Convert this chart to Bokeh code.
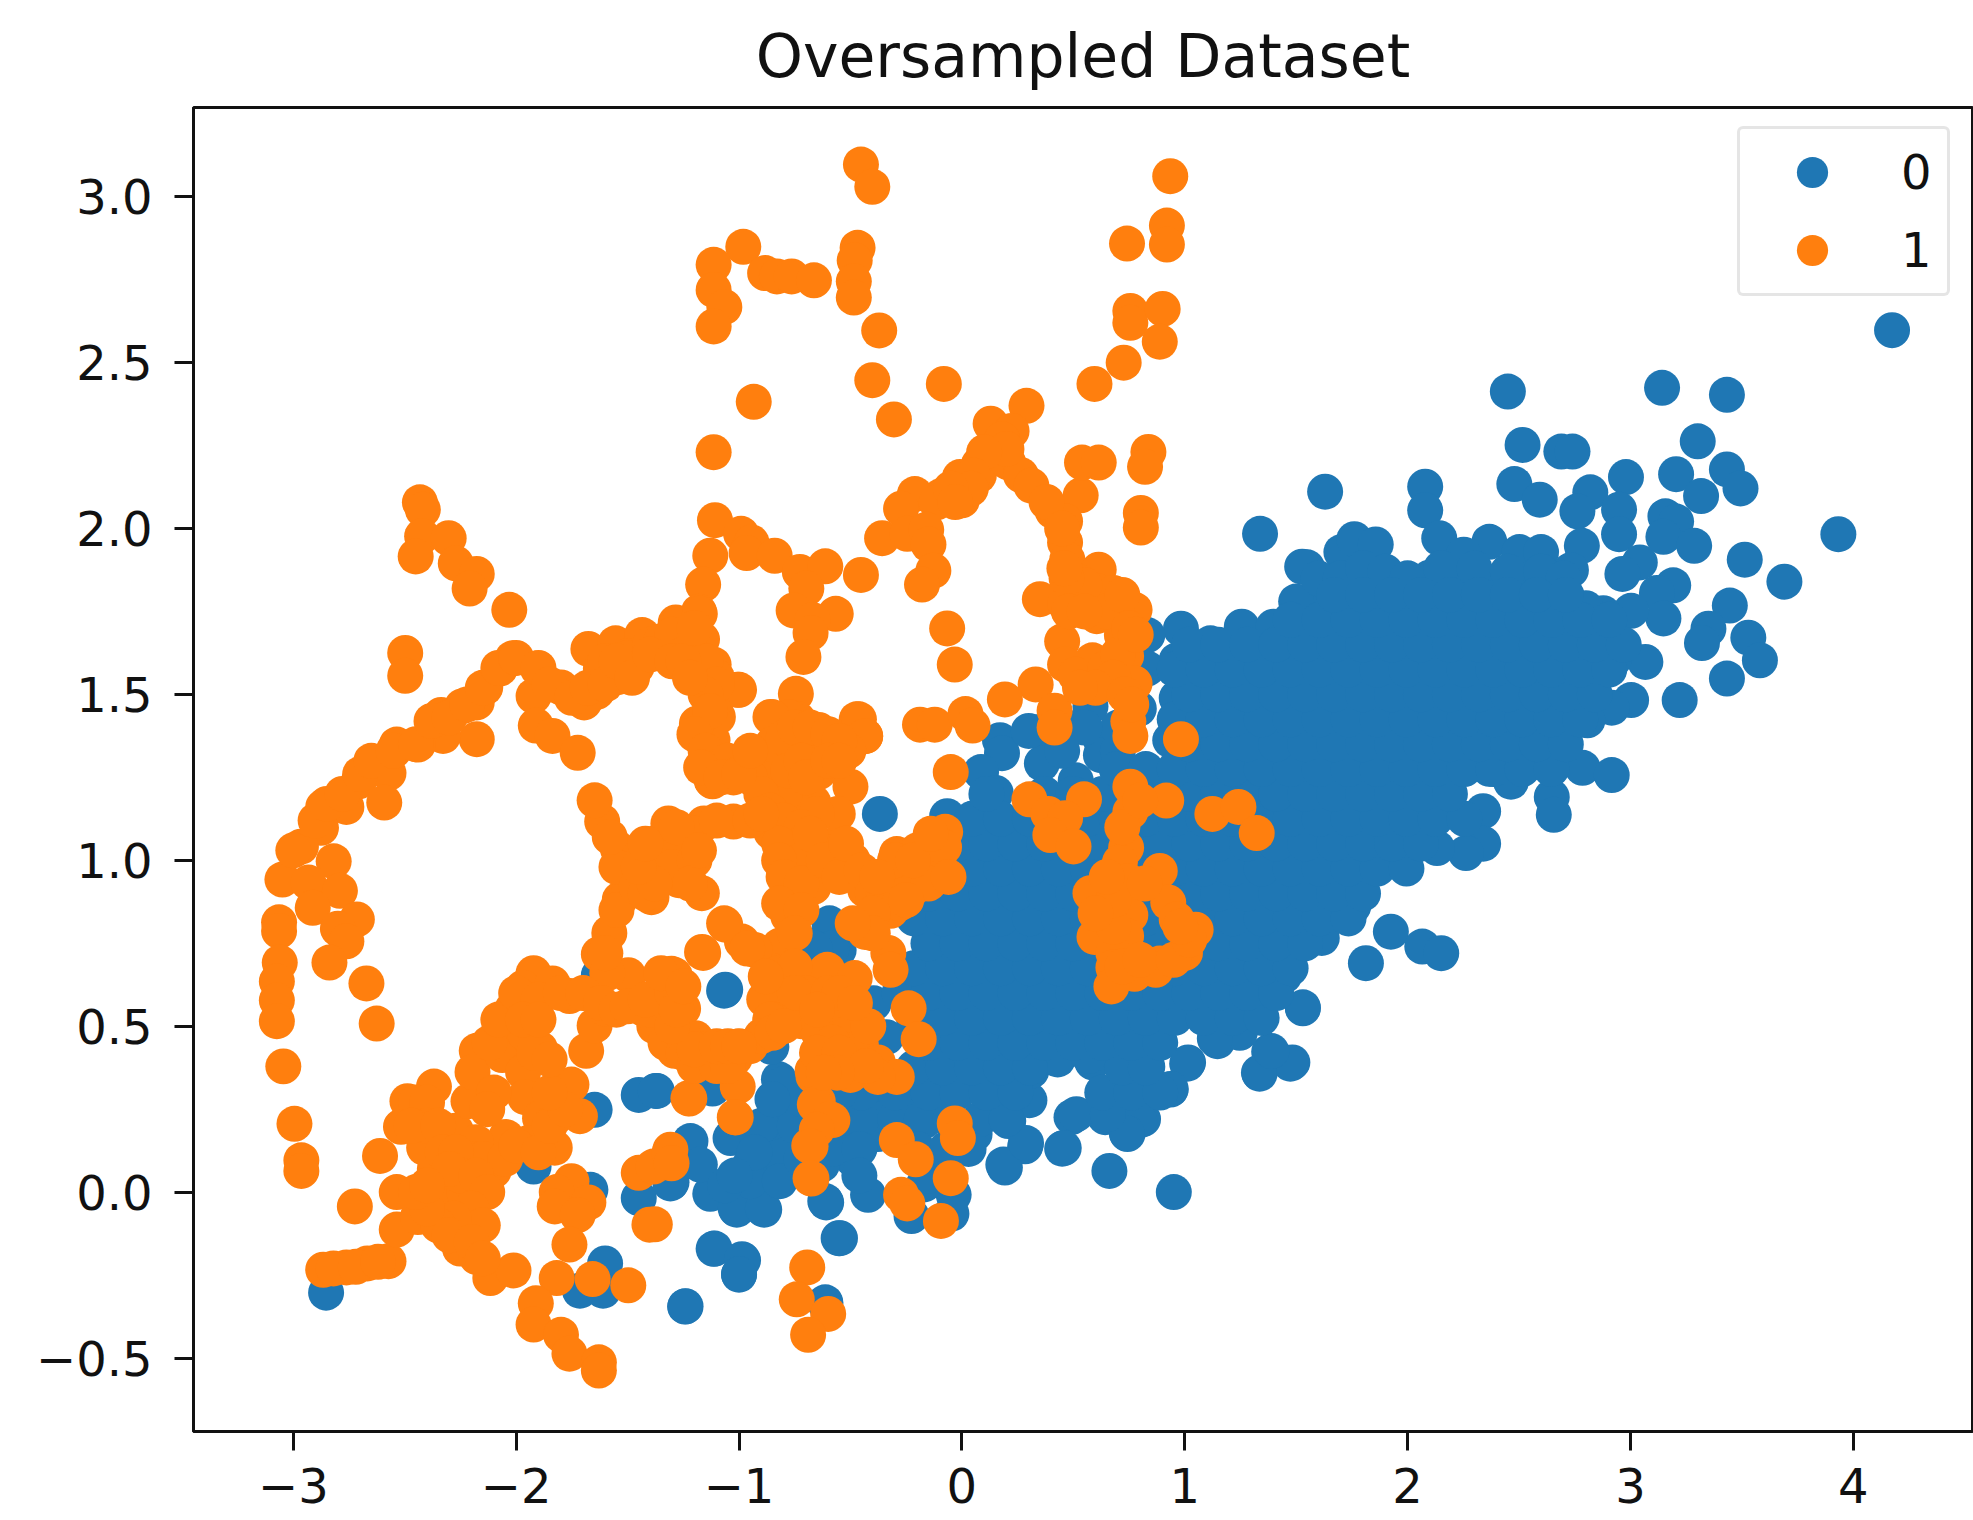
from bokeh.plotting import figure
from bokeh.embed import file_html
from bokeh.resources import INLINE
from bokeh.models import Legend, LegendItem, FixedTicker, Range1d

TITLE = "Oversampled Dataset"
X_TICKS = [-3, -2, -1, 0, 1, 2, 3, 4]
X_TICK_LABELS = ["\u22123", "\u22122", "\u22121", "0", "1", "2", "3", "4"]
Y_TICKS = [-0.5, 0, 0.5, 1, 1.5, 2, 2.5, 3]
Y_TICK_LABELS = ["\u22120.5", "0.0", "0.5", "1.0", "1.5", "2.0", "2.5", "3.0"]
CLASSES = ["0", "1"]

# class 0: separately visible points
blue_points = [
 (-0.368,1.14),(-1.067,0.607),(-1.369,0.305),(-0.821,0.34),(-0.811,0.277),(-0.853,0.207),(-1.218,0.154),(-1.038,0.163),
 (-0.821,0.118),(-0.953,0.08),(-0.811,0.042),(-1.123,-0.002),(-1.303,0.03),(-1.01,-0.053),(-0.887,-0.053),(-0.613,-0.027),
 (-0.421,-0.008),(-0.547,-0.139),(-1.114,-0.171),(-0.982,-0.205),(-1.0,-0.249),(-1.24,-0.344),(-0.613,-0.332),(-0.226,-0.072),
 (-0.037,-0.008),(-0.047,-0.065),(-0.17,0.023),(0.193,0.074),(0.284,0.138),(0.45,0.131),(0.662,0.064),(0.951,0.0),
 (0.743,0.175),(0.813,0.22),(0.643,0.226),(0.492,0.226),(0.936,0.309),(1.015,0.391),(1.147,0.455),(1.379,0.423),
 (1.336,0.357),(1.483,0.391),(1.53,0.554),(1.247,0.48),(-0.49,0.1),(-0.509,0.15),(-0.377,0.175),(-0.396,0.252),
 (-0.226,0.264),(-0.075,0.226),(0.057,0.175),(0.208,0.214),(0.303,0.277),(0.312,0.366),(0.416,0.404),(0.586,0.391),
 (0.737,0.34),(0.832,0.378),(0.68,0.264),(0.43,0.40),(0.57,0.41),
 (2.45,2.413),(3.142,2.424),(3.433,2.403),(4.174,2.598),(2.516,2.252),(2.69,2.232),(2.74,2.232),(3.302,2.263),
 (2.479,2.134),(2.593,2.087),(2.98,2.155),(3.205,2.164),(3.433,2.178),(3.494,2.121),(3.317,2.098),(2.82,2.109),
 (2.762,2.052),(2.949,2.057),(2.079,2.126),(2.079,2.055),(1.63,2.111),(3.933,1.983),(3.157,2.037),(3.205,2.021),
 (2.949,1.983),(3.148,1.975),(3.286,1.948),(2.782,1.948),(3.513,1.906),(3.691,1.84),(3.042,1.898),(2.964,1.863),
 (3.192,1.829),(3.119,1.806),(3.446,1.768),(3.35,1.698),(3.321,1.655),(3.529,1.671),(3.581,1.603),(3.433,1.548),
 (3.221,1.483),(3.148,1.729),(3.003,1.752),(2.878,1.745),(3.067,1.598),(2.926,1.606),(3.003,1.483),(2.916,1.46),
 (2.807,1.422),(2.785,1.279),(2.916,1.257),(2.647,1.191),(2.656,1.137),(2.464,1.237),(2.339,1.148),(2.339,1.05),
 (2.262,1.022),(2.132,1.037),(1.963,0.999),(1.549,1.883),(1.703,1.929),(1.761,1.968),(1.857,1.952),(1.626,1.791),
 (2.142,1.971),(2.367,1.96),(2.252,1.921),(2.502,1.929),(2.599,1.929),(2.098,1.852),(2.733,1.875),(1.944,1.768),
 (2.194,1.829),(2.367,1.837),(2.56,1.814),(2.714,1.798),(2.54,1.291),(2.618,1.291),(2.367,1.276),(2.676,1.383),
 (1.338,1.984),(1.527,1.885),(0.983,1.698),(1.256,1.704),(1.398,1.704),(0.964,1.603),(0.964,1.489),(1.115,1.654),
 (0.832,1.679),(0.832,1.578),(0.794,1.457),(0.577,1.464),(0.171,1.362),(0.35,1.387),(0.473,1.40),(0.624,1.362),
 (0.935,1.362),(0.18,1.323),(0.086,1.266),(0.152,1.203),(-0.066,1.133),(0.057,1.127),(0.359,1.292),(0.511,1.241),(0.624,1.317),
 (-1.062,0.61),(-1.648,0.248),(-1.45,0.293),(-1.374,0.305),(-1.922,0.077),(-1.667,0.007),(-1.45,-0.018),(-1.308,0.026),
 (-1.223,0.147),(-1.129,-0.005),(-1.025,0.172),(-0.949,0.071),(-0.826,0.115),(-0.855,0.21),(-0.808,0.324),(-0.609,-0.031),
 (-0.553,-0.139),(-1.015,-0.05),(-0.893,-0.05),(-1.11,-0.17),(-0.987,-0.202),(-1.0,-0.247),(-1.242,-0.345),(-2.853,-0.303),
 (-1.714,-0.297),(-1.601,-0.215),(-1.61,-0.297),(-0.613,-0.335),(-1.629,0.654),(-1.119,0.312),(-0.855,0.438),(-0.581,0.794),
 (-0.666,0.743),(-0.553,0.73),(-1.176,0.083),(-0.949,0.033),(-0.817,0.033),(-1.063,0.02),(-0.628,0.083),(-0.496,0.159),
 (-0.604,0.138),(-0.339,0.226),(-0.169,0.214),(-0.594,0.81),(-0.585,0.734),(-0.66,0.734),(-0.396,0.569),(-0.339,0.467),
 (1.813,0.69),(1.925,0.785),(2.066,0.74),(2.151,0.72),(1.756,0.861),(1.615,0.766),(1.53,0.557),(1.474,0.387),(1.333,0.36),
 (1.389,0.425),(1.011,0.387),(0.937,0.311),(0.796,0.216),(0.74,0.178),(0.457,0.133),(0.186,0.083),(0.288,0.148),(0.514,0.235),
 (0.655,0.235),(1.135,0.463),(1.248,0.539),(1.446,0.652),
 # upper edge of the core
 (1.5,1.78),(1.6,1.85),(1.7,1.85),(1.8,1.88),(1.9,1.87),(2.0,1.85),(2.15,1.88),(2.3,1.88),(2.45,1.87),(2.6,1.87),(2.7,1.85),(2.8,1.76),
 # between the core and the orange knot
 (0.7,1.33),(0.7,1.4),(0.55,1.4),(0.45,1.33),(0.3,1.39),(0.42,1.43),(0.75,1.55),
 # lower-left shoulder
 (-0.55,0.22),(-0.45,0.22),(-0.3,0.22),(-0.18,0.22),(-0.05,0.22),(0.08,0.22),(0.2,0.22),
 (-0.58,0.13),(-0.46,0.13),(-0.2,0.13),(-0.07,0.13),(0.03,0.13),(-0.46,0.05),(-0.15,0.05),
 (-0.3,0.30),(-0.45,0.30),(-0.55,0.30),
 (-0.9,0.2),(-0.93,0.12),(-1.02,0.05),(-0.75,0.2),(-0.72,0.1),(-0.72,0.28),(-0.85,0.28),
]
blue_x = [pt[0] for pt in blue_points]
blue_y = [pt[1] for pt in blue_points]

# class 0: saturated core, read row by row (marks overlap too much to separate)
core_y = [0.30,0.375,0.45,0.525,0.60,0.675,0.75,0.825,0.90,0.975,1.05,1.125,1.20,1.275,1.35,1.425,1.50,1.575,1.65,1.725,1.80]
core_x = [
 [-0.15,-0.02,0.11,0.24,0.63,0.76,0.89],
 [-0.215,-0.085,0.045,0.175,0.305,0.72,0.825],
 [-0.15,-0.02,0.11,0.24,0.37,0.50,0.63,0.76,0.89],
 [-0.215,-0.085,0.045,0.175,0.305,0.435,0.565,0.695,0.825,0.955,1.085,1.215,1.345],
 [-0.28,-0.15,-0.02,0.11,0.24,0.37,0.50,0.63,0.76,0.89,1.02,1.15,1.28,1.41],
 [-0.215,-0.085,0.045,0.175,0.305,0.435,0.565,0.695,0.825,0.955,1.085,1.215,1.345,1.475],
 [-0.15,-0.02,0.11,0.24,0.37,0.50,0.63,0.76,0.89,1.02,1.15,1.28,1.41,1.54],
 [-0.215,-0.085,0.045,0.175,0.305,0.435,0.565,0.695,0.825,0.955,1.085,1.215,1.345,1.475,1.605,1.735],
 [-0.15,-0.02,0.11,0.24,0.37,0.50,0.63,0.76,0.89,1.02,1.15,1.28,1.41,1.54,1.67,1.80],
 [-0.085,0.045,0.175,0.305,0.435,0.565,0.695,0.825,0.955,1.085,1.215,1.345,1.475,1.605,1.735,1.865,1.995],
 [-0.02,0.11,0.24,0.37,0.50,0.63,0.76,0.89,1.02,1.15,1.28,1.41,1.54,1.67,1.80,1.93,2.06],
 [0.045,0.175,0.305,0.435,0.565,0.695,0.825,0.955,1.085,1.215,1.345,1.475,1.605,1.735,1.865,1.995,2.125,2.255],
 [0.11,0.37,0.50,0.63,0.76,0.89,1.02,1.15,1.28,1.41,1.54,1.67,1.80,1.93,2.06,2.19],
 [0.695,0.825,0.955,1.085,1.215,1.345,1.475,1.605,1.735,1.865,1.995,2.125,2.255,2.385,2.515,2.645],
 [1.02,1.15,1.28,1.41,1.54,1.67,1.80,1.93,2.06,2.19,2.32,2.45,2.58,2.71],
 [0.955,1.085,1.215,1.345,1.475,1.605,1.735,1.865,1.995,2.125,2.255,2.385,2.515,2.645,2.775],
 [1.02,1.15,1.28,1.41,1.54,1.67,1.80,1.93,2.06,2.19,2.32,2.45,2.58,2.71,2.84],
 [0.955,1.085,1.215,1.345,1.475,1.605,1.735,1.865,1.995,2.125,2.255,2.385,2.515,2.645,2.775,2.905],
 [1.02,1.15,1.28,1.41,1.54,1.67,1.80,1.93,2.06,2.19,2.32,2.45,2.58,2.71,2.84,2.97],
 [1.475,1.605,1.735,1.865,1.995,2.125,2.255,2.385,2.515,2.645,2.775,2.905],
 [1.67,1.80,1.93,2.06,2.19,2.32,2.45,2.58,2.71],
]
for row_y, row in zip(core_y, core_x):
    blue_x += row
    blue_y += [row_y] * len(row)

# class 1
orange_points = [
 (-0.453,3.097),(-0.402,3.03),(-0.981,2.849),(-1.114,2.795),(-1.114,2.719),(-1.066,2.668),(-1.114,2.609),(-0.883,2.77),
 (-0.83,2.76),(-0.764,2.76),(-0.664,2.748),(-0.468,2.846),(-0.481,2.808),(-0.485,2.745),(-0.485,2.696),(-0.371,2.597),
 (-0.402,2.447),(-0.305,2.329),(-0.081,2.436),(-0.934,2.382),(-1.114,2.23),(0.935,3.062),(0.92,2.913),(0.92,2.856),
 (0.741,2.859),(0.756,2.656),(0.756,2.62),(0.901,2.662),(0.888,2.563),(0.726,2.5),(0.595,2.436),(0.29,2.37),
 (0.129,2.316),(0.223,2.294),(0.18,2.269),(0.076,2.193),(0.076,2.16),(0.0,2.085),(-0.009,2.155),(-0.094,2.098),
 (-0.211,2.104),(-0.273,2.06),(-0.113,2.079),(0.208,2.199),(0.265,2.161),(0.312,2.129),(0.407,2.053),(0.533,2.1),
 (0.539,2.199),(0.614,2.199),(0.837,2.231),(0.822,2.186),(0.803,2.047),(0.803,2.003),(0.463,2.022),(0.463,1.958),
 (0.473,1.907),(0.614,1.876),(0.51,1.844),(0.35,1.787),(0.463,1.774),(0.605,1.812),(0.68,1.806),(0.775,1.755),
 (0.605,1.736),(0.699,1.743),(0.45,1.66),(0.718,1.679),(0.737,1.616),(0.586,1.603),(0.463,1.59),(0.331,1.53),
 (0.51,1.559),(0.643,1.578),(0.775,1.533),(0.193,1.485),(-0.066,1.699),(-0.032,1.59),(0.416,1.451),(0.416,1.40),
 (0.747,1.419),(0.756,1.375),(0.983,1.365),(-0.188,1.409),(-0.122,1.409),(0.016,1.441),(0.048,1.406),(-0.358,1.971),
 (-0.245,1.984),(-0.16,1.996),(-0.15,1.952),(-0.128,1.873),(-0.179,1.831),(-0.453,1.86),(-1.108,2.025),(-0.991,1.984),
 (-0.944,1.958),(-0.966,1.926),(-0.84,1.918),(-0.727,1.869),(-0.613,1.886),(-1.129,1.918),(-1.161,1.831),(-0.698,1.819),
 (-0.755,1.753),(-0.566,1.743),(-0.67,1.724),(-0.679,1.685),(-0.711,1.613),(-0.745,1.502),(-0.859,1.432),(-0.736,1.425),
 (-0.642,1.387),(-0.472,1.425),(-0.434,1.375),(-1.0,1.514),(-1.095,1.54),(-1.18,1.749),(-1.18,1.666),(-1.284,1.717),
 (-1.378,1.654),(-1.114,1.59),(-1.17,1.406),(-1.095,1.432),
 (-2.432,2.079),(-2.419,2.057),(-2.422,1.977),(-2.303,1.971),(-2.451,1.916),(-2.271,1.895),(-2.177,1.863),(-2.209,1.819),
 (-2.031,1.755),(-2.498,1.625),(-2.498,1.556),(-1.676,1.637),(-1.554,1.654),(-1.435,1.679),(-1.27,1.711),(-1.176,1.743),
 (-1.166,1.666),(-1.327,1.641),(-1.223,1.641),(-1.497,1.616),(-1.459,1.584),(-1.544,1.552),(-1.62,1.578),(-1.638,1.508),
 (-1.695,1.476),(-1.799,1.521),(-1.903,1.578),(-2.016,1.609),(-2.073,1.578),(-2.139,1.521),(-1.922,1.495),(-1.912,1.406),
 (-1.837,1.375),(-1.724,1.324),(-2.177,1.365),(-2.177,1.476),(-2.243,1.464),(-2.337,1.438),(-2.328,1.375),(-2.441,1.349),
 (-2.536,1.349),(-1.006,1.514),(-1.10,1.552),(-1.119,1.464),(-1.176,1.413),(-1.119,1.362),
 (-2.706,1.238),(-2.573,1.263),(-2.592,1.174),(-2.762,1.161),(-2.866,1.161),(-2.876,1.098),(-2.966,1.041),(-2.819,0.997),
 (-3.049,0.942),(-2.932,0.933),(-2.791,0.908),(-2.913,0.857),(-2.715,0.822),(-2.8,0.794),(-2.762,0.756),(-3.064,0.813),
 (-3.064,0.787),(-3.061,0.692),(-3.074,0.635),(-3.074,0.578),(-3.074,0.515),(-2.838,0.692),(-2.672,0.629),(-2.626,0.508),
 (-3.045,0.379),(-2.995,0.206),(-2.964,0.096),(-2.964,0.064),(-2.724,-0.043),(-2.866,-0.234),(-2.762,-0.227),(-2.668,-0.215),
 (-2.573,-0.208),(-2.611,0.109),(-2.536,0.0),(-2.536,-0.113),(-2.441,-0.075),(-2.517,0.197),(-2.488,0.274),(-2.369,0.318),
 (-2.432,0.223),(-2.413,0.134),(-2.365,0.07),(-2.328,0.02),(-2.309,-0.043),(-2.233,0.0),(-2.224,-0.094),(-2.252,-0.17),
 (-2.177,-0.196),(-2.116,-0.259),(-2.012,-0.236),(-2.271,0.185),(-2.214,0.274),(-2.177,0.426),(-2.196,0.362),(-2.063,0.489),
 (-2.016,0.553),(-1.922,0.66),(-1.969,0.616),(-2.063,0.413),(-1.96,0.477),(-1.893,0.432),(-1.969,0.362),(-1.96,0.286),
 (-1.893,0.223),(-2.045,0.166),(-1.95,0.147),(-1.827,0.134),(-1.714,0.229),(-1.752,0.324),(-1.827,0.223),(-2.101,0.064),
 (-1.686,0.426),(-1.648,0.502),(-1.761,0.591),(-1.837,0.629),(-1.601,0.553),(-1.431,0.553),(-1.497,0.654),(-1.629,0.717),
 (-1.591,0.66),(-1.582,0.781),(-1.535,0.882),(-1.497,0.933),(-1.544,1.035),(-1.614,1.117),(-1.648,1.181),(-1.393,0.889),
 (-1.365,1.054),(-1.317,1.111),(-1.157,1.111),(-1.025,1.117),(-1.251,0.997),(-1.346,0.959),(-1.167,0.901),(-1.27,0.94),
 (-1.119,1.238),(-1.025,1.25),(-0.911,1.263),(-0.76,1.174),(-0.855,1.085),(-0.779,1.009),(-0.76,0.908),(-0.779,0.832),
 (-0.817,0.743),(-1.062,0.806),(-0.987,0.755),(-1.166,0.724),(-1.289,0.654),(-1.346,0.54),(-1.251,0.553),(-1.195,0.464),
 (-1.289,0.426),(-1.119,0.413),(-1.006,0.438),(-1.006,0.318),(-1.015,0.225),(-1.223,0.282),(-0.874,0.591),(-0.855,0.667),
 (-0.93,0.73),(-0.666,1.174),(-0.571,1.047),(-0.666,0.92),(-0.609,0.667),(-0.666,0.591),(-0.722,0.515),(-0.571,0.515),
 (-0.628,0.438),(-0.666,0.35),(-0.647,0.274),(-0.581,0.217),(-0.685,0.14),(-0.675,0.041),(-1.308,0.128),(-1.308,0.096),
 (-1.45,0.058),(-1.384,0.077),(-1.402,-0.098),(-1.752,0.033),(-1.818,0.0),(-1.676,-0.031),(-1.827,-0.043),(-1.724,-0.069),
 (-1.761,-0.158),(-1.818,-0.259),(-1.657,-0.262),(-1.497,-0.281),(-1.912,-0.335),(-1.922,-0.399),(-1.799,-0.43),(-1.761,-0.487),
 (-1.629,-0.513),(-1.629,-0.538),(-0.694,-0.227),(-0.741,-0.323),(-0.6,-0.367),(-0.69,-0.43),
 (-1.189,1.412),(-1.133,1.292),(-1.123,1.241),(-0.925,1.317),(-0.774,1.431),(-0.849,1.431),(-0.642,1.393),(-0.679,1.33),
 (-0.83,1.279),(-0.793,1.203),(-0.642,1.266),(-0.462,1.425),(-0.434,1.374),(-0.509,1.33),(-0.5,1.222),(-0.557,1.14),
 (-0.651,1.14),(-0.05,1.266),(-0.075,1.086),(-0.113,1.038),(-0.292,1.019),(-0.113,0.949),(-0.188,0.975),(-0.226,0.911),
 (-0.32,0.848),(-0.434,0.911),(-0.49,1.0),(-0.585,1.025),(-0.755,0.949),(-0.755,0.835),(-0.434,0.784),(-0.33,0.721),
 (-0.32,0.67),(-0.239,0.554),(-0.194,0.461),(-0.604,0.67),(-0.481,0.645),(-0.547,0.531),(-0.642,0.48),(-0.509,0.48),
 (-0.453,0.442),(-0.377,0.391),(-0.292,0.347),(-0.5,0.353),(-0.377,0.347),(-0.67,0.366),(-0.66,0.264),(-0.594,0.22),
 (-0.651,0.188),(-0.679,0.138),(-0.679,0.042),(-1.227,0.283),(-1.019,0.226),(-0.83,0.658),(-0.887,0.581),(-0.774,0.531),
 (-1.019,0.404),(-1.17,0.429),(-1.303,0.467),(-1.34,0.569),(-1.303,0.658),(-1.161,0.721),(-1.067,0.81),(-0.963,0.734),
 (-1.312,0.118),(-1.303,0.087),(-1.378,-0.097),
 (0.303,1.184),(0.388,1.14),(0.548,1.184),(0.463,1.127),(0.397,1.076),(0.501,1.042),(0.756,1.222),(0.756,1.146),
 (0.917,1.18),(1.124,1.14),(1.241,1.161),(1.323,1.082),(0.737,1.038),(0.709,0.994),(0.888,0.968),(0.747,0.937),
 (0.577,0.901),(0.662,0.86),(0.756,0.835),(0.926,0.873),(0.595,0.769),(0.737,0.772),(0.964,0.822),(1.049,0.791),
 (1.001,0.721),(0.68,0.721),(0.888,0.689),(0.68,0.677),(0.775,0.658),(0.671,0.62),(0.87,0.67),
 (-0.032,0.207),(-0.018,0.163),(-0.292,0.157),(-0.207,0.099),(-0.05,0.042),(-0.273,-0.008),(-0.245,-0.034),(-0.094,-0.087),
 # chains where marks run together
 (-3.0,1.03),(-2.9,1.12),(-2.85,1.17),(-2.78,1.2),(-2.7,1.26),(-2.65,1.3),(-2.55,1.33),(-2.45,1.35),(-2.38,1.42),(-2.3,1.43),
 (-2.22,1.47),(-2.15,1.52),(-2.08,1.58),(-2.0,1.61),(-1.9,1.58),(-1.85,1.53),(-1.75,1.49),(-1.68,1.52),(-1.6,1.6),(-1.5,1.61),
 (-1.4,1.65),(-1.35,1.66),(-1.3,1.68),(-1.25,1.62),(-1.15,1.6),(-1.1,1.53),(-1.15,1.5),(-1.13,1.45),(-1.2,1.38),(-1.15,1.33),
 (-1.1,1.28),(-1.05,1.3),(-0.98,1.28),(-0.9,1.3),(-0.85,1.35),(-0.8,1.37),(-0.75,1.4),(-0.68,1.4),(-0.6,1.38),(-0.55,1.36),
 (-0.95,1.25),(-0.9,1.2),(-0.86,1.15),(-0.8,1.12),(-0.72,1.1),(-0.78,1.27),(-0.72,1.3),(-0.7,1.25),(-0.6,1.3),(-0.55,1.3),
 (-0.72,1.05),(-0.82,1.05),(-0.72,1.0),(-0.82,1.0),(-0.8,0.95),(-0.72,0.93),(-0.82,0.87),(-0.72,0.85),(-0.75,0.78),(-0.68,1.08),
 (-0.62,1.0),(-0.55,0.95),(-0.52,1.05),(-0.45,0.97),(-0.4,0.9),(-0.35,0.9),(-0.27,0.95),(-0.2,1.03),(-0.28,0.87),(-0.4,0.84),
 (-0.4,0.78),(-0.49,0.81),(-0.15,1.0),(-0.1,0.98),(-0.08,1.04),(-0.15,0.93),(-0.25,0.88),(-0.3,1.0),(-0.22,1.0),(-0.38,0.95),
 (-0.14,1.08),(-0.06,0.95),(-0.75,0.68),(-0.7,0.6),(-0.75,0.6),(-0.85,0.52),(-0.88,0.65),(-0.86,0.52),(-0.6,0.6),(-0.55,0.6),
 (-0.65,0.55),(-0.58,0.45),(-0.65,0.42),(-0.55,0.42),(-0.42,0.5),(-0.48,0.57),(-0.43,0.38),(-0.56,0.36),(-0.62,0.36),
 (-0.95,0.44),(-0.9,0.47),(-0.85,0.48),(-0.8,0.5),(-1.38,0.5),(-1.35,0.6),(-1.37,0.52),(-1.33,0.45),(-1.25,0.42),(-1.2,0.38),
 (-1.1,0.38),(-1.05,0.38),(-1.25,0.47),(-1.2,0.43),(-1.1,0.44),(-1.05,0.44),(-1.0,0.44),(-1.4,0.55),
 (-2.12,0.45),(-2.08,0.52),(-2.0,0.6),(-1.9,0.58),(-2.1,0.3),(-2.13,0.25),(-2.18,0.15),(-2.2,0.1),(-2.15,0.1),(-2.05,0.1),
 (-2.0,0.14),(-1.9,0.12),(-1.85,0.2),(-1.78,0.25),(-1.85,0.3),(-1.92,0.42),(-1.85,0.4),(-1.97,0.52),(-1.9,0.52),(-1.8,0.6),
 (-1.7,0.6),(-1.62,0.57),(-1.55,0.55),(-1.5,0.56),(-2.45,0.27),(-2.4,0.27),(-2.4,0.2),(-2.47,0.2),(-2.35,0.2),(-2.33,0.12),
 (-2.27,0.12),(-2.25,0.05),(-2.3,0.07),(-2.18,0.05),(-2.13,0.0),(-2.2,-0.05),(-2.15,-0.1),(-2.28,-0.08),(-2.35,-0.1),(-2.4,-0.05),
 (-2.45,0.0),(-2.4,0.02),(-2.3,-0.13),(-2.2,-0.15),(-2.15,-0.2),(-2.82,-0.23),(-2.72,-0.225),(-2.62,-0.21),
 (-1.3,0.5),(-1.42,0.58),(-1.55,0.98),(-1.55,0.85),(-1.58,1.07),(-1.6,0.72),(-1.46,0.92),(-1.42,0.9),(-1.35,1.0),(-1.3,1.05),
 (-1.2,1.08),(-1.1,1.12),(-0.95,1.12),(-0.9,1.14),(-1.17,1.28),(-1.08,1.25),(-1.0,1.26),(-0.95,1.33),
 (0.65,1.75),(0.72,1.8),(0.7,1.62),(0.75,1.7),(0.78,1.68),(0.68,1.55),(0.6,1.52),(0.53,1.52),(0.73,1.5),(0.76,1.47),
 (0.55,1.83),(0.47,1.85),(0.48,1.75),(0.55,1.75),(0.2,2.24),(0.1,2.23),(0.05,2.16),(0.04,2.12),(-0.05,2.12),(-0.03,2.08),
 (0.38,2.08),(0.45,2.0),(0.46,1.88),(0.68,0.8),(0.68,0.88),(0.82,0.93),(0.72,0.68),(0.8,0.7),(0.95,0.7),(1.02,0.76),(0.98,0.8),
 (0.6,0.84),(0.65,0.95),(0.72,1.1),(0.8,1.18),
 (-1.6,1.53),(-1.55,1.6),(-1.48,1.55),(-1.4,1.62),(-1.3,1.6),(-1.25,1.6),(-1.2,1.7),(-1.22,1.55),
 (-1.42,1.0),(-1.3,0.98),(-1.2,1.0),(-1.22,0.93),(-1.38,0.93),(-1.45,0.98),(-1.28,1.1),(-1.42,1.05),(-1.18,1.03),
 (-1.3,0.6),(-1.28,0.55),(-1.35,0.66),(-1.25,0.62),
]
orange_x = [pt[0] for pt in orange_points]
orange_y = [pt[1] for pt in orange_points]

BLUE = "#1f77b4"
ORANGE = "#ff7f0e"
FONT = "DejaVu Sans"
INK = "#111111"

p = figure(width=1973, height=1520, output_backend="svg", toolbar_location=None,
           x_range=Range1d(-3.448, 4.535), y_range=Range1d(-0.7215, 3.269),
           min_border_left=193, min_border_right=1, min_border_top=107, min_border_bottom=89,
           title=TITLE)
p.title.text_font = FONT
p.title.text_font_size = "60px"
p.title.text_font_style = "normal"
p.title.text_color = INK
p.title.align = "center"
p.title.standoff = 34
p.grid.visible = False
p.background_fill_color = "white"
p.outline_line_color = "#111111"
p.outline_line_width = 3
p.outline_line_alpha = 1

for ax in (p.xaxis[0], p.yaxis[0]):
    ax.axis_line_color = "#111111"
    ax.axis_line_width = 3
    ax.major_tick_line_color = "#111111"
    ax.major_tick_line_width = 3
    ax.major_tick_in = 0
    ax.major_tick_out = 19
    ax.minor_tick_line_color = None
    ax.major_label_text_font = FONT
    ax.major_label_text_font_size = "48px"
    ax.major_label_text_color = INK
p.xaxis[0].ticker = FixedTicker(ticks=X_TICKS)
p.yaxis[0].ticker = FixedTicker(ticks=Y_TICKS)
p.xaxis[0].major_label_overrides = dict(zip(X_TICKS, X_TICK_LABELS))
p.yaxis[0].major_label_overrides = dict(zip(Y_TICKS, Y_TICK_LABELS))
p.xaxis[0].major_label_standoff = 17
p.yaxis[0].major_label_standoff = 22

r0 = p.scatter(blue_x, blue_y, size=36, marker="circle", color=BLUE, line_width=0)
r1 = p.scatter(orange_x, orange_y, size=36, marker="circle", color=ORANGE, line_width=0)

legend = Legend(items=[LegendItem(label=CLASSES[0], renderers=[r0]),
                       LegendItem(label=CLASSES[1], renderers=[r1])],
                location=(1544, 1135), orientation="vertical",
                glyph_width=136, glyph_height=78, label_standoff=21, label_width=42,
                padding=4, spacing=0, margin=0,
                label_text_font=FONT, label_text_font_size="48px", label_text_color=INK,
                border_line_color="#cccccc", border_line_width=3, border_radius=6,
                background_fill_color="white", background_fill_alpha=0.8)
p.add_layout(legend, "center")

open("out.html", "w").write(file_html(p, INLINE))
